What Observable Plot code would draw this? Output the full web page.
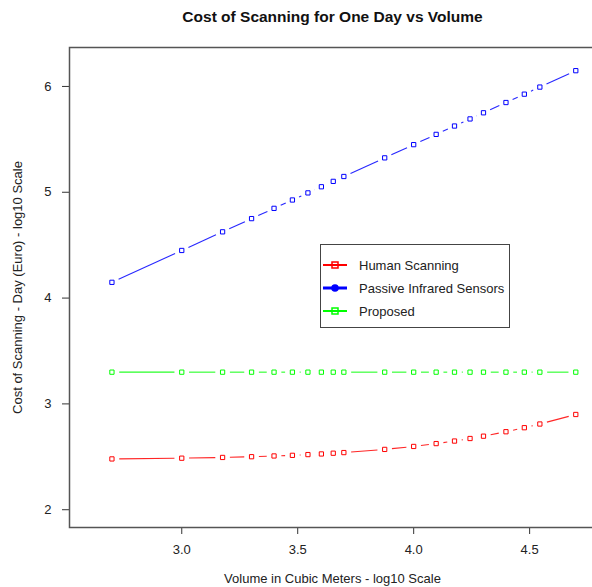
<!DOCTYPE html>
<html>
<head>
<meta charset="utf-8">
<script src="https://cdn.jsdelivr.net/npm/d3@7"></script>
<script src="https://cdn.jsdelivr.net/npm/@observablehq/plot@0.6"></script>
<style>
  html, body { margin: 0; padding: 0; background: #fff; overflow: hidden; }
  #wrap { position: relative; width: 592px; height: 587px; overflow: hidden; font-family: "Liberation Sans", Arial, sans-serif; }
  #wrap > svg { max-width: none !important; display: block; }
  #legend { position: absolute; left: 320px; top: 244px; width: 190px; height: 84px; border: 1px solid #444; background: #fff; box-sizing: border-box; }
  .lrow { position: absolute; left: 0; height: 20px; display: flex; align-items: center; font-size: 13px; color: #222; }
  .lrow svg { margin-left: 2px; margin-right: 12px; }
</style>
</head>
<body>
<div id="wrap"></div>
<script>
// ---- data ----
const volumes = [500, 1000, 1500, 2000, 2500, 3000, 3500, 4000, 4500, 5000,
                 7500, 10000, 12500, 15000, 17500, 20000, 25000, 30000, 35000, 50000];
const humanScanning = [2.480, 2.487, 2.494, 2.501, 2.508, 2.514, 2.521, 2.527, 2.534, 2.540,
                       2.570, 2.598, 2.625, 2.649, 2.673, 2.695, 2.737, 2.775, 2.810, 2.900];
const passiveInfrared = [4.149, 4.450, 4.626, 4.751, 4.848, 4.927, 4.994, 5.052, 5.103, 5.149,
                         5.325, 5.450, 5.547, 5.626, 5.693, 5.751, 5.848, 5.927, 5.994, 6.149];
const proposed = [3.30, 3.30, 3.30, 3.30, 3.30, 3.30, 3.30, 3.30, 3.30, 3.30,
                  3.30, 3.30, 3.30, 3.30, 3.30, 3.30, 3.30, 3.30, 3.30, 3.30];
const seriesNames = ["Human Scanning", "Passive Infrared Sensors", "Proposed"];
const seriesColors = ["#ff0000", "#0000ff", "#00ff00"];
const xTicks = [3.0, 3.5, 4.0, 4.5];
const yTicks = [2, 3, 4, 5, 6];
const title = "Cost of Scanning for One Day vs Volume";
const xLabel = "Volume in Cubic Meters - log10 Scale";
const yLabel = "Cost of Scanning - Day (Euro) - log10 Scale";

// ---- layout ----
const W = 600, H = 587, ML = 69, MR = 5, MT = 47, MB = 60;
const xDomain = [2.516, 4.784], yDomain = [1.832, 6.368];
const sx = d3.scaleLinear(xDomain, [ML, W - MR]);
const sy = d3.scaleLinear(yDomain, [H - MB, MT]);

const valuesBySeries = [humanScanning, passiveInfrared, proposed];
const points = [];
valuesBySeries.forEach((vals, si) => {
  vals.forEach((v, i) => points.push({series: seriesNames[si], x: Math.log10(volumes[i]), y: v}));
});

// type="b" style: segments between points, with a gap around each point
const GAP = 7.3;
const segments = [];
valuesBySeries.forEach((vals, si) => {
  for (let i = 0; i < vals.length - 1; i++) {
    const xa = Math.log10(volumes[i]), xb = Math.log10(volumes[i + 1]);
    const pa = [sx(xa), sy(vals[i])], pb = [sx(xb), sy(vals[i + 1])];
    const dx = pb[0] - pa[0], dy = pb[1] - pa[1];
    const L = Math.hypot(dx, dy);
    if (L <= 2 * GAP) continue;
    const ux = dx / L, uy = dy / L;
    segments.push({
      series: seriesNames[si],
      x1: sx.invert(pa[0] + ux * GAP), y1: sy.invert(pa[1] + uy * GAP),
      x2: sx.invert(pb[0] - ux * GAP), y2: sy.invert(pb[1] - uy * GAP)
    });
  }
});

const color = {domain: seriesNames, range: seriesColors};

const chart = Plot.plot({
  width: W, height: H,
  marginLeft: ML, marginRight: MR, marginTop: MT, marginBottom: MB,
  style: {fontFamily: "Liberation Sans, Arial, sans-serif", fontSize: "13px", color: "#222", background: "transparent", maxWidth: "none"},
  x: {domain: xDomain, ticks: xTicks, tickFormat: d3.format(".1f"), label: null},
  y: {domain: yDomain, ticks: yTicks, tickFormat: d3.format("d"), label: null},
  color,
  marks: [
    Plot.axisX({ticks: xTicks, tickFormat: d3.format(".1f"), tickSize: 7, tickPadding: 10, label: null, stroke: "#333", fontSize: 13}),
    Plot.axisY({ticks: yTicks, tickFormat: d3.format("d"), tickSize: 7, tickPadding: 11, label: null, stroke: "#333", fontSize: 13}),
    Plot.link(segments, {x1: "x1", y1: "y1", x2: "x2", y2: "y2", stroke: "series", strokeWidth: 1.1, strokeOpacity: 0.85}),
    Plot.dot(points, {x: "x", y: "y", stroke: "series", symbol: "square", r: 2.4, strokeWidth: 1, fill: "none"}),
    Plot.frame({stroke: "#555", strokeWidth: 1.5}),
    Plot.text([title], {frameAnchor: "top", dy: -30, textAnchor: "middle", lineAnchor: "middle", fontSize: 15.5, fontWeight: "bold", fill: "#111"}),
    Plot.text([xLabel], {frameAnchor: "bottom", dy: 51, textAnchor: "middle", lineAnchor: "middle", fontSize: 13, fill: "#222"}),
    Plot.text([yLabel], {frameAnchor: "left", dx: -52, rotate: -90, textAnchor: "middle", lineAnchor: "middle", fontSize: 13, fill: "#222"})
  ]
});

const wrap = document.getElementById("wrap");
wrap.appendChild(chart);

// ---- legend (matches the reference's legend swatches) ----
const legend = document.createElement("div");
legend.id = "legend";
const swatches = [
  {name: seriesNames[0], color: seriesColors[0], shape: "square", lw: 2},
  {name: seriesNames[1], color: seriesColors[1], shape: "circle", lw: 3},
  {name: seriesNames[2], color: seriesColors[2], shape: "square", lw: 2}
];
swatches.forEach((s, i) => {
  const row = document.createElement("div");
  row.className = "lrow";
  row.style.top = (10 + i * 23) + "px";
  const shape = s.shape === "square"
    ? `<rect x="9" y="7" width="6" height="6" fill="none" stroke="${s.color}" stroke-width="1.5"/>`
    : `<circle cx="12" cy="10" r="3.8" fill="${s.color}"/>`;
  row.innerHTML = `<svg width="24" height="20"><line x1="0" y1="10" x2="24" y2="10" stroke="${s.color}" stroke-width="${s.lw}"/>${shape}</svg><span>${s.name}</span>`;
  legend.appendChild(row);
});
wrap.appendChild(legend);
</script>
</body>
</html>
